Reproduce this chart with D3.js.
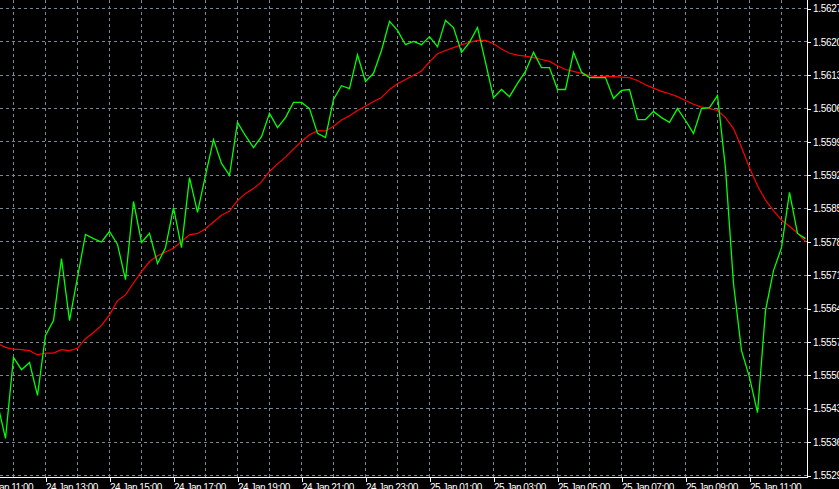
<!DOCTYPE html>
<html>
<head>
<meta charset="utf-8">
<script src="https://cdn.jsdelivr.net/npm/d3@7"></script>
<style>
  html, body { margin: 0; padding: 0; background: #000; overflow: hidden; }
  svg { display: block; }
  text { font-family: "Liberation Sans", Arial, sans-serif; }
</style>
</head>
<body>
<svg id="chart" width="839" height="489"></svg>
<script>
// ---- data ----
const startTime = "24 Jan 11:30";   // first bar (M15)
const barMinutes = 15;

const closeValues = [
  1.55441, 1.55368, 1.55538, 1.55512, 1.55527, 1.55458, 1.55584, 1.55615, 1.55745, 1.55615,
  1.55706, 1.55796, 1.55787, 1.55780, 1.55802, 1.55775, 1.55701, 1.55865, 1.55779, 1.55798,
  1.55735, 1.55768, 1.55852, 1.55768, 1.55915, 1.55842, 1.55920, 1.55995, 1.55945, 1.55920,
  1.56031, 1.56003, 1.55978, 1.56001, 1.56050, 1.56020, 1.56041, 1.56073, 1.56073, 1.56060,
  1.56008, 1.55999, 1.56079, 1.56108, 1.56102, 1.56173, 1.56117, 1.56134, 1.56182, 1.56243,
  1.56224, 1.56194, 1.56201, 1.56194, 1.56211, 1.56190, 1.56245, 1.56230, 1.56178, 1.56199,
  1.56230, 1.56157, 1.56083, 1.56100, 1.56085, 1.56113, 1.56138, 1.56178, 1.56146, 1.56146,
  1.56100, 1.56100, 1.56178, 1.56136, 1.56125, 1.56125, 1.56125, 1.56081, 1.56098, 1.56100,
  1.56037, 1.56037, 1.56054, 1.56041, 1.56031, 1.56060, 1.56035, 1.56008, 1.56060, 1.56062,
  1.56087, 1.55934, 1.55693, 1.55552, 1.55496, 1.55422, 1.55636, 1.55720, 1.55768, 1.55884,
  1.55798, 1.55787
];

const maValues = [
  1.55567, 1.55559, 1.55555, 1.55554, 1.55552, 1.55543, 1.55547, 1.55547, 1.55554, 1.55552,
  1.55557, 1.55577, 1.55590, 1.55605, 1.55627, 1.55657, 1.55669, 1.55694, 1.55718, 1.55739,
  1.55751, 1.55759, 1.55767, 1.55781, 1.55795, 1.55798, 1.55808, 1.55822, 1.55836, 1.55845,
  1.55867, 1.55882, 1.55892, 1.55906, 1.55928, 1.55944, 1.55958, 1.55975, 1.55991, 1.56005,
  1.56013, 1.56013, 1.56023, 1.56036, 1.56045, 1.56056, 1.56065, 1.56075, 1.56083, 1.56100,
  1.56112, 1.56121, 1.56130, 1.56139, 1.56158, 1.56175, 1.56182, 1.56188, 1.56194, 1.56199,
  1.56203, 1.56203, 1.56196, 1.56185, 1.56176, 1.56172, 1.56170, 1.56167, 1.56163, 1.56159,
  1.56150, 1.56142, 1.56138, 1.56134, 1.56129, 1.56126, 1.56128, 1.56127, 1.56126, 1.56125,
  1.56119, 1.56110, 1.56103, 1.56096, 1.56091, 1.56085, 1.56077, 1.56069, 1.56063, 1.56060,
  1.56056, 1.56041, 1.56018, 1.55979, 1.55936, 1.55898, 1.55868, 1.55846, 1.55826, 1.55813,
  1.55799, 1.55781
];

const priceTickLabels = [
  "1.5627", "1.5620", "1.5613", "1.5606", "1.5599", "1.5592", "1.5585", "1.5578",
  "1.5571", "1.5564", "1.5557", "1.5550", "1.5543", "1.5536", "1.5529"
];

const timeTickLabels = [
  "24 Jan 11:00", "24 Jan 13:00", "24 Jan 15:00", "24 Jan 17:00", "24 Jan 19:00",
  "24 Jan 21:00", "24 Jan 23:00", "25 Jan 01:00", "25 Jan 03:00", "25 Jan 05:00",
  "25 Jan 07:00", "25 Jan 09:00", "25 Jan 11:00"
];

// ---- setup ----
const parseT = d3.utcParse("%d %b %H:%M");
const t0 = parseT(startTime);
const times = closeValues.map((_, i) => d3.utcMinute.offset(t0, i * barMinutes));
const timeTicks = timeTickLabels.map(parseT);

const svg = d3.select("#chart");
const W = 839, H = 489;
const plotRight = 807.5, plotBottom = 477.5;

svg.append("rect").attr("x", 0).attr("y", 0).attr("width", W).attr("height", H).attr("fill", "#000");

const x = d3.scaleTime()
  .domain([times[0], times[times.length - 1]])
  .range([-2.5, 805.5]);

const y = d3.scaleLinear()
  .domain([+priceTickLabels[priceTickLabels.length - 1], +priceTickLabels[0]])
  .range([475.5, 8.5]);

const gridColor = "#778899";

// vertical grid every hour
const hourTicks = d3.utcHour.every(1).range(times[0], d3.utcMinute.offset(times[times.length - 1], 1));
svg.append("g").selectAll("line").data(hourTicks).join("line")
  .attr("x1", d => Math.round(x(d) - 0.5) + 0.5)
  .attr("x2", d => Math.round(x(d) - 0.5) + 0.5)
  .attr("y1", 0).attr("y2", plotBottom)
  .attr("stroke", gridColor).attr("stroke-width", 1)
  .attr("stroke-dasharray", "3,3")
  .attr("shape-rendering", "crispEdges");

// horizontal grid at price labels
svg.append("g").selectAll("line").data(priceTickLabels).join("line")
  .attr("x1", 0).attr("x2", plotRight)
  .attr("y1", d => Math.round(y(+d) - 0.5) + 0.5)
  .attr("y2", d => Math.round(y(+d) - 0.5) + 0.5)
  .attr("stroke", gridColor).attr("stroke-width", 1)
  .attr("stroke-dasharray", "3,3")
  .attr("shape-rendering", "crispEdges");

// clip
svg.append("clipPath").attr("id", "plotClip")
  .append("rect").attr("x", 0).attr("y", 0).attr("width", plotRight).attr("height", plotBottom);

const plot = svg.append("g").attr("clip-path", "url(#plotClip)");

const lineMA = d3.line().x((d, i) => x(times[i])).y(d => y(d));
const lineClose = d3.line().x((d, i) => x(times[i])).y(d => y(d));

plot.append("path").datum(maValues)
  .attr("d", lineMA)
  .attr("fill", "none").attr("stroke", "#ff0000").attr("stroke-width", 1.2);

plot.append("path").datum(closeValues)
  .attr("d", lineClose)
  .attr("fill", "none").attr("stroke", "#00ff00").attr("stroke-width", 1.3);

// right axis
const yAxis = d3.axisRight(y)
  .tickValues(priceTickLabels.map(Number))
  .tickFormat((d, i) => priceTickLabels[i])
  .tickSize(3).tickPadding(3);

const gy = svg.append("g").attr("transform", `translate(${plotRight},0)`).call(yAxis);
gy.select(".domain").attr("stroke", "#fff").attr("d", `M0,0V${plotBottom}`).attr("shape-rendering", "crispEdges");
gy.selectAll(".tick line").attr("stroke", "#fff").attr("shape-rendering", "crispEdges");
gy.selectAll(".tick text")
  .attr("fill", "#fff")
  .attr("font-size", "10px")
  .attr("letter-spacing", "-0.3px")
  .attr("font-family", "Liberation Sans, Arial, sans-serif")
  .attr("x", 5.5);

// bottom axis
const xAxis = d3.axisBottom(x)
  .tickValues(timeTicks)
  .tickFormat((d, i) => timeTickLabels[i])
  .tickSize(4).tickPadding(0);

const gx = svg.append("g").attr("transform", `translate(0,${plotBottom})`).call(xAxis);
gx.select(".domain").attr("stroke", "#fff").attr("d", `M0,0H${plotRight}`).attr("shape-rendering", "crispEdges");
gx.selectAll(".tick line").attr("stroke", "#fff").attr("shape-rendering", "crispEdges");
gx.selectAll(".tick text")
  .attr("fill", "#fff")
  .attr("font-size", "10px")
  .attr("letter-spacing", "-0.5px")
  .attr("font-family", "Liberation Sans, Arial, sans-serif")
  .attr("text-anchor", "start")
  .attr("x", 0)
  .attr("dy", null)
  .attr("y", 13);
</script>
</body>
</html>
